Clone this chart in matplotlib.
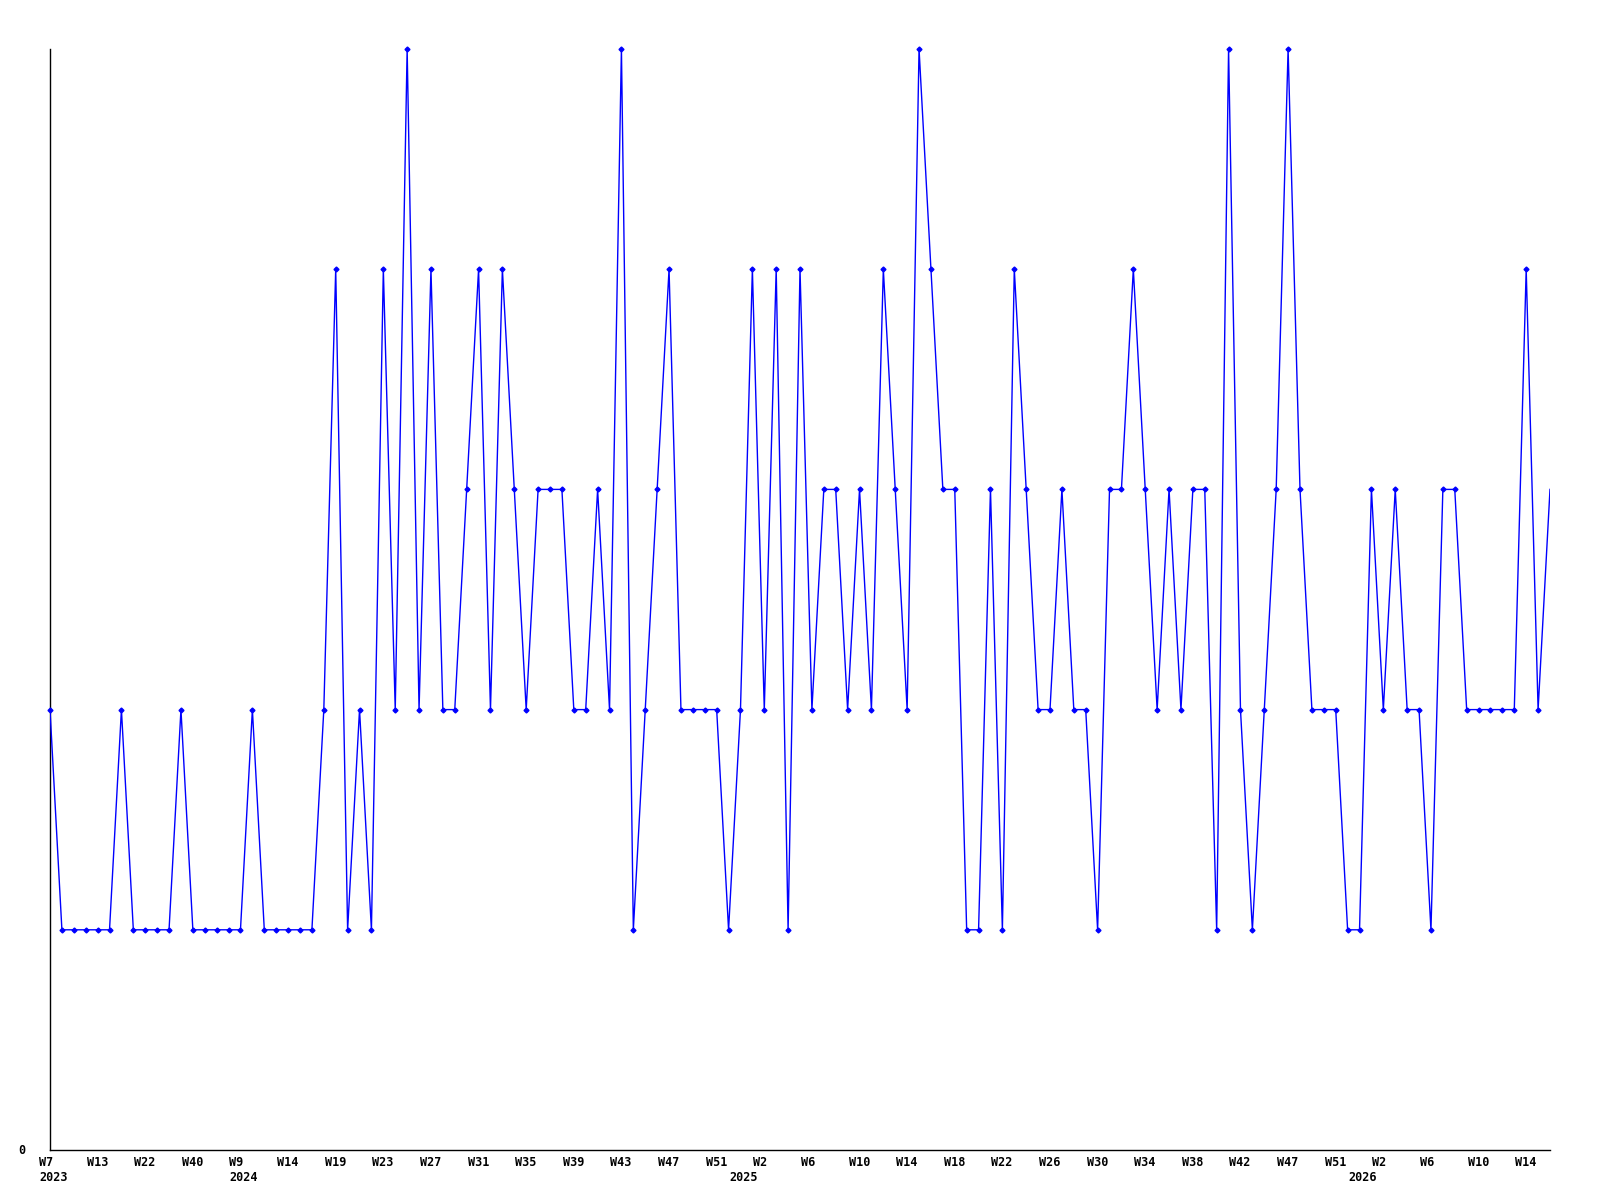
import matplotlib
matplotlib.use("Agg")
import matplotlib.pyplot as plt
from matplotlib.transforms import offset_copy

# weekly values, one per point
values = [2, 1, 1, 1, 1, 1, 2, 1, 1, 1, 1, 2, 1, 1, 1, 1, 1, 2, 1, 1,
          1, 1, 1, 2, 4, 1, 2, 1, 4, 2, 5, 2, 4, 2, 2, 3, 4, 2, 4, 3,
          2, 3, 3, 3, 2, 2, 3, 2, 5, 1, 2, 3, 4, 2, 2, 2, 2, 1, 2, 4,
          2, 4, 1, 4, 2, 3, 3, 2, 3, 2, 4, 3, 2, 5, 4, 3, 3, 1, 1, 3,
          1, 4, 3, 2, 2, 3, 2, 2, 1, 3, 3, 4, 3, 2, 3, 2, 3, 3, 1, 5,
          2, 1, 2, 3, 5, 3, 2, 2, 2, 1, 1, 3, 2, 3, 2, 2, 1, 3, 3, 2,
          2, 2, 2, 2, 4, 2, 3]

week_labels = ["W7", "W13", "W22", "W40", "W9", "W14", "W19", "W23", "W27",
               "W31", "W35", "W39", "W43", "W47", "W51", "W2", "W6", "W10",
               "W14", "W18", "W22", "W26", "W30", "W34", "W38", "W42", "W47",
               "W51", "W2", "W6", "W10", "W14"]
week_pos = list(range(0, 125, 4))

year_labels = ["2023", "2024", "2025", "2026"]
year_pos = [0, 16, 58, 110]

x = list(range(len(values)))

fig = plt.figure(figsize=(16, 12), dpi=100)
ax = fig.add_axes([50 / 1600, 50 / 1200, 1500 / 1600, 1101 / 1200])

ax.plot(x, values, color="#0000ff", lw=1.0, zorder=3)
# last point has no marker in the original
ax.plot(x[:-1], values[:-1], ls="none", marker="D", ms=2.5, color="#0000ff",
        zorder=4, clip_on=False)

ax.set_xlim(0, len(values) - 1)
ax.set_ylim(0, 5)
ax.set_xticks([])
ax.set_yticks([])
for s in ["top", "right"]:
    ax.spines[s].set_visible(False)
for s in ["left", "bottom"]:
    ax.spines[s].set_color("black")
    ax.spines[s].set_linewidth(1.0)

font = dict(family="DejaVu Sans Mono", fontweight="bold", fontsize=8.5)
trans = offset_copy(ax.get_xaxis_transform(), fig=fig, x=-11, y=-6, units="dots")
for p, lab in zip(week_pos, week_labels):
    ax.text(p, 0, lab, transform=trans, ha="left", va="top", **font)
trans2 = offset_copy(ax.get_xaxis_transform(), fig=fig, x=-11, y=-21, units="dots")
for p, lab in zip(year_pos, year_labels):
    ax.text(p, 0, lab, transform=trans2, ha="left", va="top", **font)

fig.text(22 / 1600, 1 - 1150 / 1200, "0", ha="center", va="center", **font)

fig.savefig("out.png", dpi=100, facecolor="white")
